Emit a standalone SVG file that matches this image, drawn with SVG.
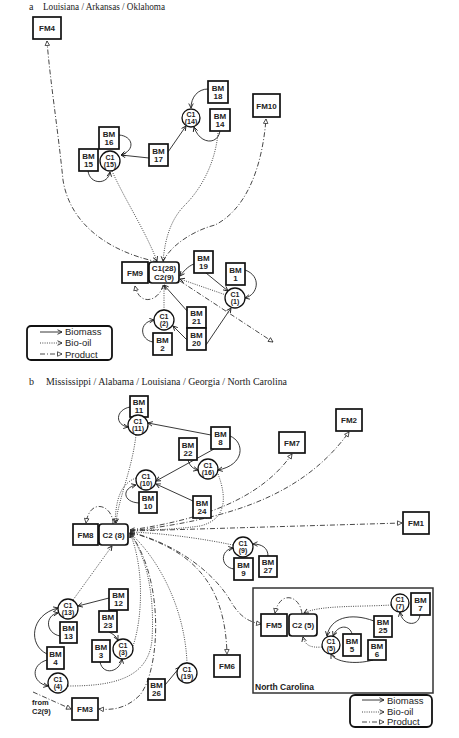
<svg xmlns="http://www.w3.org/2000/svg" width="459" height="738" viewBox="0 0 459 738">
<defs>
<marker id="av" viewBox="0 0 8 8" refX="7" refY="4" markerWidth="6" markerHeight="6" markerUnits="userSpaceOnUse" orient="auto"><path d="M1,1 L7,4 L1,7" fill="none" stroke="#222" stroke-width="1.2"/></marker>
<marker id="at" viewBox="0 0 8 8" refX="7" refY="4" markerWidth="6" markerHeight="6" markerUnits="userSpaceOnUse" orient="auto"><path d="M1,1 L7,4 L1,7 Z" fill="#fff" stroke="#222" stroke-width="1"/></marker>
</defs>
<style>
.n rect{fill:#fff;stroke:#111;stroke-width:1.7}
.n circle{fill:#fff;stroke:#111;stroke-width:1.3}
.n text{font-family:"Liberation Sans",Arial,sans-serif;font-size:8px;font-weight:bold;text-anchor:middle;fill:#222}
.n text.s{font-size:7px}
.bm{fill:none;stroke:#222;stroke-width:0.9;marker-end:url(#av)}
.bo{fill:none;stroke:#333;stroke-width:0.9;stroke-dasharray:1 1.3;marker-end:url(#av)}
.pr{fill:none;stroke:#333;stroke-width:0.9;stroke-dasharray:5 2 1 2;marker-end:url(#at)}
.t{font-family:"Liberation Serif","Times New Roman",serif;font-size:10px;fill:#222}
.lg{font-family:"Liberation Sans",Arial,sans-serif;font-size:9.5px;fill:#222}
.lb{font-family:"Liberation Sans",Arial,sans-serif;font-weight:bold;fill:#222}
.box{fill:none;stroke:#111;stroke-width:1.8}
</style>
<rect width="459" height="738" fill="#fff"/>
<text class="t" x="29" y="9.5">a</text>
<text class="t" x="43" y="9.5" textLength="122" lengthAdjust="spacingAndGlyphs">Louisiana / Arkansas / Oklahoma</text>
<text class="t" x="29" y="385">b</text>
<text class="t" x="46" y="385" textLength="241" lengthAdjust="spacingAndGlyphs">Mississippi / Alabama / Louisiana / Georgia / North Carolina</text>

<g id="connectors">
<!-- section a -->
<path class="pr" d="M158,262 C110,252 70,225 63,180 C58,130 50,80 47,41"/>
<path class="pr" d="M163,262 C170,245 195,230 215,225 C245,210 262,170 266,119"/>
<path class="bo" d="M112,171 C125,200 145,230 157,261"/>
<path class="bo" d="M218,133 C215,165 200,190 185,205 C170,220 165,240 163,261"/>
<path class="bm" d="M149,158 L121,155"/>
<path class="bm" d="M168,152 L186,126"/>
<path class="bm" d="M208,89 C198,89 191,97 191,108"/>
<path class="bm" d="M220,131 C218,145 200,145 194,127"/>
<path class="bm" d="M119,135 C133,136 136,150 121,155"/>
<path class="bm" d="M88,171 C90,185 108,185 110,172"/>
<path class="bm" d="M194,264 C188,266 183,272 180,276"/>
<path class="bm" d="M206,273 L228,291"/>
<path class="bm" d="M245,270 C262,276 258,295 245,298"/>
<path class="bm" d="M206,345 L231,308"/>
<path class="bm" d="M188,312 L164,285"/>
<path class="bm" d="M187,340 L173,326"/>
<path class="bm" d="M153,342 C140,340 138,322 154,320"/>
<path class="bo" d="M164,310 L164,285"/>
<path class="pr" d="M163,285 C160,300 140,308 135,286"/>
<path class="bo" d="M226,295 L180,279"/>
<path class="pr" d="M180,281 L273,342"/>
<!-- section b -->
<path class="bm" d="M130,407 C115,410 115,425 128,427"/>
<path class="bm" d="M211,435 L148,423"/>
<path class="bm" d="M214,449 L156,481"/>
<path class="bm" d="M230,436 C245,442 245,465 218,470"/>
<path class="bm" d="M188,460 C190,467 194,469 198,470"/>
<path class="bm" d="M193,501 L156,484"/>
<path class="bm" d="M139,503 C122,502 122,488 136,485"/>
<path class="bo" d="M136,435 C132,470 118,500 116,523"/>
<path class="bo" d="M136,478 C120,484 116,500 115,523"/>
<path class="bo" d="M218,474 C228,500 225,520 200,526 C170,530 150,530 130,530"/>
<path class="pr" d="M113,524 C113,505 90,497 86,523"/>
<path class="pr" d="M130,530 C200,520 260,500 292,454"/>
<path class="pr" d="M130,531 C220,520 300,500 349,432"/>
<path class="pr" d="M130,531 L402,523"/>
<path class="bo" d="M233,545 C200,538 160,533 130,532"/>
<path class="bm" d="M234,569 C220,567 220,550 233,548"/>
<path class="bm" d="M268,556 C268,548 262,544 253,544"/>
<path class="pr" d="M130,532 C180,545 215,575 230,600 C240,618 250,622 261,624"/>
<path class="pr" d="M130,532 C190,550 225,580 227,654"/>
<path class="bo" d="M187,663 C185,610 160,560 130,533"/>
<path class="pr" d="M130,533 C165,580 160,670 140,695 C125,710 110,710 99,709"/>
<path class="bo" d="M133,646 C142,620 145,570 130,533"/>
<path class="bo" d="M68,686 C110,686 148,680 152,640 C155,590 145,555 130,533"/>
<path class="bo" d="M73,600 L112,546"/>
<path class="bm" d="M109,598 L78,606"/>
<path class="bm" d="M60,636 C45,633 45,615 58,613"/>
<path class="bm" d="M47,654 C28,645 30,615 58,608"/>
<path class="bm" d="M47,660 C30,665 32,683 48,686"/>
<path class="bm" d="M109,632 C113,634 116,636 118,640"/>
<path class="bm" d="M100,662 C103,676 120,672 122,659"/>
<path class="bm" d="M165,685 L180,667"/>
<path class="pr" d="M33,692 L71,709"/>
<path class="bo" d="M391,605 C360,607 320,605 304,613"/>
<path class="pr" d="M302,614 C300,595 280,590 275,613"/>
<path class="bm" d="M420,615 C418,628 402,625 400,612"/>
<path class="bm" d="M374,621 C350,612 330,618 327,636"/>
<path class="bm" d="M352,634 C350,625 338,624 333,636"/>
<path class="bm" d="M373,660 C355,665 335,662 331,654"/>
<path class="bo" d="M322,647 C310,648 305,645 303,637"/>
</g>

<!-- section a nodes -->
<g id="FM4" class="n"><rect x="33" y="17" width="28" height="22"/><text x="47" y="31">FM4</text></g>
<g id="BM18" class="n"><rect x="208" y="81" width="20" height="22"/><text x="218" y="90.5">BM</text><text x="218" y="98.5">18</text></g>
<g id="C1-14" class="n"><circle cx="191" cy="118" r="9"/><text class="s" x="191" y="116.5">C1</text><text class="s" x="191" y="123.5">(14)</text></g>
<g id="BM14" class="n"><rect x="210" y="109" width="20" height="22"/><text x="220" y="118.5">BM</text><text x="220" y="126.5">14</text></g>
<g id="BM17" class="n"><rect x="149" y="144" width="19" height="22"/><text x="158.5" y="153.5">BM</text><text x="158.5" y="161.5">17</text></g>
<g id="FM10" class="n"><rect x="253" y="94" width="27" height="23"/><text x="266.5" y="108.5">FM10</text></g>
<g id="BM16" class="n"><rect x="99" y="127" width="20" height="22"/><text x="109" y="136.5">BM</text><text x="109" y="144.5">16</text></g>
<g id="BM15" class="n"><rect x="79" y="149" width="19" height="22"/><text x="88.5" y="158.5">BM</text><text x="88.5" y="166.5">15</text></g>
<g id="C1-15" class="n"><circle cx="110" cy="161" r="10"/><text class="s" x="110" y="159.5">C1</text><text class="s" x="110" y="166.5">(15)</text></g>
<g id="FM9" class="n"><rect x="122" y="262" width="26" height="21"/><text x="135" y="275.5">FM9</text></g>
<g id="C1-28-C2-9" class="n"><rect x="149" y="262" width="30" height="21" rx="3"/><text x="164" y="271">C1(28)</text><text x="164" y="280">C2(9)</text></g>
<g id="BM19" class="n"><rect x="194" y="251" width="19" height="22"/><text x="203.5" y="260.5">BM</text><text x="203.5" y="268.5">19</text></g>
<g id="BM1" class="n"><rect x="226" y="263" width="19" height="22"/><text x="235.5" y="272.5">BM</text><text x="235.5" y="280.5">1</text></g>
<g id="C1-1" class="n"><circle cx="235" cy="298" r="10"/><text class="s" x="235" y="296.5">C1</text><text class="s" x="235" y="303.5">(1)</text></g>
<g id="C1-2" class="n"><circle cx="164" cy="320" r="10"/><text class="s" x="164" y="318.5">C1</text><text class="s" x="164" y="325.5">(2)</text></g>
<g id="BM2" class="n"><rect x="153" y="333" width="19" height="22"/><text x="162.5" y="342.5">BM</text><text x="162.5" y="350.5">2</text></g>
<g id="BM21" class="n"><rect x="187" y="307" width="19" height="21"/><text x="196.5" y="316">BM</text><text x="196.5" y="324">21</text></g>
<g id="BM20" class="n"><rect x="187" y="328" width="19" height="22"/><text x="196.5" y="337.5">BM</text><text x="196.5" y="345.5">20</text></g>
<g id="legend-a">
<rect x="27" y="326" width="85" height="34" rx="4" class="box"/>
<path class="bm" d="M40,332 L62,332"/>
<path class="bo" d="M40,343 L62,343"/>
<path class="pr" d="M40,354 L62,354"/>
<text class="lg" x="65" y="335">Biomass</text>
<text class="lg" x="65" y="346">Bio-oil</text>
<text class="lg" x="65" y="358">Product</text>
</g>

<!-- section b nodes -->
<g id="BM11" class="n"><rect x="130" y="396" width="18" height="21"/><text x="139" y="405">BM</text><text x="139" y="413">11</text></g>
<g id="C1-11" class="n"><circle cx="138" cy="425" r="10"/><text class="s" x="138" y="423.5">C1</text><text class="s" x="138" y="430.5">(11)</text></g>
<g id="BM8" class="n"><rect x="211" y="427" width="19" height="22"/><text x="220.5" y="436.5">BM</text><text x="220.5" y="444.5">8</text></g>
<g id="BM22" class="n"><rect x="179" y="438" width="18" height="22"/><text x="188" y="447.5">BM</text><text x="188" y="455.5">22</text></g>
<g id="C1-16" class="n"><circle cx="208" cy="469" r="10"/><text class="s" x="208" y="467.5">C1</text><text class="s" x="208" y="474.5">(16)</text></g>
<g id="C1-10" class="n"><circle cx="146" cy="480" r="10"/><text class="s" x="146" y="478.5">C1</text><text class="s" x="146" y="485.5">(10)</text></g>
<g id="BM10" class="n"><rect x="139" y="492" width="18" height="21"/><text x="148" y="501">BM</text><text x="148" y="509">10</text></g>
<g id="BM24" class="n"><rect x="193" y="496" width="18" height="22"/><text x="202" y="505.5">BM</text><text x="202" y="513.5">24</text></g>
<g id="FM7" class="n"><rect x="279" y="432" width="26" height="21"/><text x="292" y="445.5">FM7</text></g>
<g id="FM2" class="n"><rect x="336" y="409" width="26" height="22"/><text x="349" y="423">FM2</text></g>
<g id="FM1" class="n"><rect x="403" y="512" width="26" height="22"/><text x="416" y="526">FM1</text></g>
<g id="FM8" class="n"><rect x="73" y="524" width="25" height="21"/><text x="85.5" y="537.5">FM8</text></g>
<g id="C2-8" class="n"><rect x="99" y="524" width="29" height="21" rx="3"/><text x="113.5" y="537.5">C2 (8)</text></g>
<g id="C1-9" class="n"><circle cx="243" cy="547" r="10"/><text class="s" x="243" y="545.5">C1</text><text class="s" x="243" y="552.5">(9)</text></g>
<g id="BM9" class="n"><rect x="234" y="558" width="19" height="22"/><text x="243.5" y="567.5">BM</text><text x="243.5" y="575.5">9</text></g>
<g id="BM27" class="n"><rect x="259" y="556" width="18" height="21"/><text x="268" y="565">BM</text><text x="268" y="573">27</text></g>
<g id="C1-13" class="n"><circle cx="68" cy="609" r="10"/><text class="s" x="68" y="607.5">C1</text><text class="s" x="68" y="614.5">(13)</text></g>
<g id="BM12" class="n"><rect x="109" y="589" width="19" height="21"/><text x="118.5" y="598">BM</text><text x="118.5" y="606">12</text></g>
<g id="BM13" class="n"><rect x="60" y="622" width="17" height="21"/><text x="68.5" y="631">BM</text><text x="68.5" y="639">13</text></g>
<g id="BM23" class="n"><rect x="99" y="611" width="18" height="21"/><text x="108" y="620">BM</text><text x="108" y="628">23</text></g>
<g id="BM4" class="n"><rect x="47" y="647" width="17" height="22"/><text x="55.5" y="656.5">BM</text><text x="55.5" y="664.5">4</text></g>
<g id="C1-4" class="n"><circle cx="58" cy="683" r="10"/><text class="s" x="58" y="681.5">C1</text><text class="s" x="58" y="688.5">(4)</text></g>
<g id="BM3" class="n"><rect x="92" y="640" width="18" height="22"/><text x="101" y="649.5">BM</text><text x="101" y="657.5">3</text></g>
<g id="C1-3" class="n"><circle cx="123" cy="649" r="10"/><text class="s" x="123" y="647.5">C1</text><text class="s" x="123" y="654.5">(3)</text></g>
<g id="C1-19" class="n"><circle cx="187" cy="673" r="10"/><text class="s" x="187" y="671.5">C1</text><text class="s" x="187" y="678.5">(19)</text></g>
<g id="BM26" class="n"><rect x="148" y="679" width="17" height="21"/><text x="156.5" y="688">BM</text><text x="156.5" y="696">26</text></g>
<g id="FM3" class="n"><rect x="72" y="698" width="26" height="22"/><text x="85" y="712">FM3</text></g>
<g id="FM6" class="n"><rect x="214" y="655" width="26" height="22"/><text x="227" y="669">FM6</text></g>
<g id="from-C2-9"><text class="lb" font-size="7.5" x="32" y="705">from</text><text class="lb" font-size="7.5" x="32" y="714">C2(9)</text></g>

<g id="north-carolina">
<rect x="253" y="588" width="180" height="105" fill="none" stroke="#333" stroke-width="1.5"/>
<text class="lb" font-size="8.5" x="255" y="690">North Carolina</text>
</g>
<g id="FM5" class="n"><rect x="261" y="614" width="26" height="22"/><text x="274" y="628">FM5</text></g>
<g id="C2-5" class="n"><rect x="289" y="614" width="28" height="22" rx="3"/><text x="303" y="628">C2 (5)</text></g>
<g id="C1-7" class="n"><circle cx="400" cy="603" r="9"/><text class="s" x="400" y="601.5">C1</text><text class="s" x="400" y="608.5">(7)</text></g>
<g id="BM7" class="n"><rect x="411" y="593" width="19" height="22"/><text x="420.5" y="602.5">BM</text><text x="420.5" y="610.5">7</text></g>
<g id="BM25" class="n"><rect x="374" y="616" width="18" height="21"/><text x="383" y="625">BM</text><text x="383" y="633">25</text></g>
<g id="C1-5" class="n"><circle cx="331" cy="645" r="9"/><text class="s" x="331" y="643.5">C1</text><text class="s" x="331" y="650.5">(5)</text></g>
<g id="BM5" class="n"><rect x="343" y="634" width="18" height="22"/><text x="352" y="643.5">BM</text><text x="352" y="651.5">5</text></g>
<g id="BM6" class="n"><rect x="368" y="640" width="18" height="20"/><text x="377" y="648.5">BM</text><text x="377" y="656.5">6</text></g>
<g id="legend-b">
<rect x="350" y="695" width="82" height="32" rx="5" class="box"/>
<path class="bm" d="M362,700 L384,700"/>
<path class="bo" d="M362,712 L384,712"/>
<path class="pr" d="M362,722 L384,722"/>
<text class="lg" x="387" y="704">Biomass</text>
<text class="lg" x="387" y="715">Bio-oil</text>
<text class="lg" x="387" y="725">Product</text>
</g>
</svg>
